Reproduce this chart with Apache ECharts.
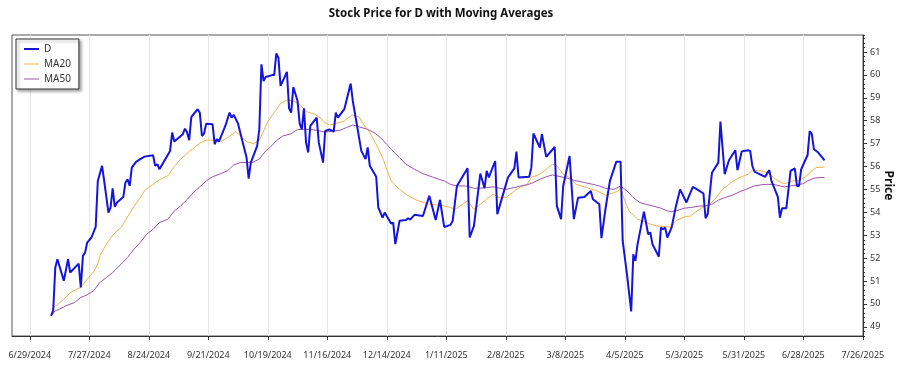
<!DOCTYPE html>
<html>
<head>
<meta charset="utf-8">
<title>Stock Price for D with Moving Averages</title>
<script src="https://cdn.jsdelivr.net/npm/echarts@6/dist/echarts.min.js"></script>
<style>
  html, body { margin: 0; padding: 0; background: #fff; }
  #chart { width: 900px; height: 375px; }
</style>
</head>
<body>
<div id="chart"></div>
<script>
// daily close of D
var dates = ['2024-07-09','2024-07-10','2024-07-11','2024-07-12','2024-07-15','2024-07-17','2024-07-18','2024-07-22','2024-07-23','2024-07-24',
  '2024-07-25','2024-07-26','2024-07-28','2024-07-30','2024-07-31','2024-08-02','2024-08-03','2024-08-05','2024-08-06','2024-08-07',
  '2024-08-08','2024-08-09','2024-08-12','2024-08-13','2024-08-14','2024-08-15','2024-08-16','2024-08-18','2024-08-20','2024-08-22',
  '2024-08-26','2024-08-27','2024-08-28','2024-08-29','2024-09-03','2024-09-04','2024-09-05','2024-09-09','2024-09-10','2024-09-11',
  '2024-09-12','2024-09-13','2024-09-16','2024-09-17','2024-09-18','2024-09-19','2024-09-20','2024-09-23','2024-09-24','2024-09-25',
  '2024-09-26','2024-09-29','2024-10-01','2024-10-02','2024-10-03','2024-10-05','2024-10-07','2024-10-09','2024-10-10','2024-10-11',
  '2024-10-14','2024-10-15','2024-10-16','2024-10-17','2024-10-18','2024-10-21','2024-10-22','2024-10-23','2024-10-24','2024-10-25',
  '2024-10-28','2024-10-29','2024-10-30','2024-10-31','2024-11-02','2024-11-03','2024-11-04','2024-11-05','2024-11-06','2024-11-07',
  '2024-11-08','2024-11-11','2024-11-12','2024-11-14','2024-11-15','2024-11-17','2024-11-19','2024-11-20','2024-11-21','2024-11-24',
  '2024-11-27','2024-11-28','2024-11-30','2024-12-02','2024-12-04','2024-12-05','2024-12-06','2024-12-09','2024-12-10','2024-12-12',
  '2024-12-13','2024-12-16','2024-12-17','2024-12-18','2024-12-20','2024-12-23','2024-12-24','2024-12-25','2024-12-27','2024-12-31',
  '2025-01-03','2025-01-06','2025-01-08','2025-01-10','2025-01-13','2025-01-14','2025-01-16','2025-01-21','2025-01-22','2025-01-24',
  '2025-01-27','2025-01-29','2025-01-30','2025-01-31','2025-02-03','2025-02-04','2025-02-09','2025-02-12','2025-02-13','2025-02-14',
  '2025-02-19','2025-02-20','2025-02-21','2025-02-24','2025-02-25','2025-02-27','2025-03-03','2025-03-04','2025-03-06','2025-03-07',
  '2025-03-10','2025-03-12','2025-03-14','2025-03-17','2025-03-20','2025-03-21','2025-03-24','2025-03-25','2025-03-27','2025-03-29',
  '2025-04-01','2025-04-03','2025-04-04','2025-04-06','2025-04-08','2025-04-09','2025-04-10','2025-04-11','2025-04-14','2025-04-16',
  '2025-04-17','2025-04-18','2025-04-21','2025-04-22','2025-04-23','2025-04-24','2025-04-25','2025-04-27','2025-04-29','2025-05-01',
  '2025-05-04','2025-05-07','2025-05-09','2025-05-12','2025-05-13','2025-05-14','2025-05-16','2025-05-19','2025-05-20','2025-05-22',
  '2025-05-24','2025-05-27','2025-05-28','2025-05-30','2025-05-31','2025-06-02','2025-06-03','2025-06-04','2025-06-05','2025-06-10',
  '2025-06-12','2025-06-13','2025-06-16','2025-06-17','2025-06-18','2025-06-20','2025-06-22','2025-06-24','2025-06-25','2025-06-26',
  '2025-06-27','2025-06-30','2025-07-01','2025-07-02','2025-07-03','2025-07-05','2025-07-08'];
var prices = [49.48,49.70,51.59,51.95,51.01,51.95,51.37,51.76,50.72,52.10,
  52.24,52.68,52.90,53.36,55.37,56.03,55.37,53.99,54.21,55.05,
  54.24,54.43,54.67,55.30,55.44,55.15,55.95,56.20,56.32,56.43,
  56.49,56.03,56.10,55.88,56.68,57.48,57.09,57.41,57.65,57.50,
  57.15,58.16,58.50,58.35,57.33,57.44,57.87,57.84,56.97,57.19,
  57.09,57.77,58.35,58.13,58.25,57.87,57.12,56.39,55.47,56.17,
  56.90,57.62,60.46,59.73,59.91,59.99,59.99,60.93,60.75,59.52,
  60.13,58.54,58.35,59.47,58.86,57.87,57.62,58.54,57.04,56.61,
  57.77,58.13,57.04,56.17,57.55,57.62,57.52,58.35,58.13,58.50,
  59.62,58.86,57.77,56.68,56.32,56.83,56.03,55.55,54.21,53.77,
  53.99,53.51,53.55,52.61,53.63,53.66,53.74,53.68,53.89,53.84,
  54.72,53.66,54.54,53.36,53.45,53.63,55.15,55.92,52.90,53.41,
  55.69,55.05,55.81,55.52,56.24,53.92,55.52,55.92,56.65,55.52,
  55.55,55.95,57.44,56.83,57.41,56.42,56.85,54.28,53.70,55.15,
  56.46,53.70,54.64,54.67,54.93,54.57,54.35,52.87,54.21,55.37,
  56.21,56.21,52.75,51.30,49.67,52.17,51.88,52.61,54.03,53.04,
  53.12,52.61,52.06,53.33,53.26,53.33,52.90,53.33,54.24,55.00,
  54.43,55.11,55.00,54.82,53.74,53.92,55.73,56.17,57.96,55.66,
  56.27,56.71,55.84,56.65,56.68,56.71,56.68,56.03,55.78,55.55,
  55.84,55.37,54.67,53.77,54.18,54.18,55.81,55.92,55.15,55.15,
  55.88,56.50,57.55,57.41,56.75,56.61,56.27];

// moving averages, read at a coarser step
var ma20Dates = ['2024-07-09','2024-07-10','2024-07-12','2024-07-15','2024-07-18','2024-07-21','2024-07-23','2024-07-26','2024-07-29','2024-07-31',
  '2024-08-01','2024-08-04','2024-08-07','2024-08-11','2024-08-14','2024-08-17','2024-08-20','2024-08-22','2024-08-26','2024-08-29',
  '2024-09-02','2024-09-05','2024-09-08','2024-09-12','2024-09-17','2024-09-20','2024-09-23','2024-09-27','2024-09-30','2024-10-04',
  '2024-10-07','2024-10-09','2024-10-12','2024-10-15','2024-10-17','2024-10-19','2024-10-22','2024-10-25','2024-10-28','2024-10-31',
  '2024-11-03','2024-11-06','2024-11-10','2024-11-13','2024-11-15','2024-11-17','2024-11-20','2024-11-24','2024-11-27','2024-11-28',
  '2024-12-01','2024-12-03','2024-12-06','2024-12-09','2024-12-12','2024-12-14','2024-12-16','2024-12-20','2024-12-23','2024-12-27',
  '2024-12-31','2025-01-03','2025-01-07','2025-01-10','2025-01-13','2025-01-15','2025-01-18','2025-01-21','2025-01-24','2025-01-27',
  '2025-01-30','2025-02-02','2025-02-05','2025-02-08','2025-02-12','2025-02-15','2025-02-18','2025-02-20','2025-02-24','2025-02-27',
  '2025-03-02','2025-03-04','2025-03-07','2025-03-10','2025-03-13','2025-03-18','2025-03-23','2025-03-27','2025-03-29','2025-04-02',
  '2025-04-03','2025-04-05','2025-04-07','2025-04-11','2025-04-14','2025-04-17','2025-04-20','2025-04-25','2025-04-27','2025-04-29',
  '2025-05-03','2025-05-06','2025-05-09','2025-05-12','2025-05-15','2025-05-18','2025-05-21','2025-05-26','2025-05-29','2025-06-02',
  '2025-06-04','2025-06-08','2025-06-11','2025-06-14','2025-06-16','2025-06-19','2025-06-21','2025-06-23','2025-06-26','2025-06-29',
  '2025-07-02','2025-07-04','2025-07-08'];
var ma20 = [49.48,49.85,49.96,50.21,50.48,50.64,50.72,51.08,51.40,51.74,
  52.10,52.60,53.00,53.35,53.80,54.25,54.64,54.95,55.22,55.42,
  55.60,56.00,56.32,56.65,57.02,57.15,57.15,57.09,57.26,57.52,
  57.26,57.09,57.00,57.15,57.55,57.95,58.35,58.75,58.90,58.86,
  58.72,58.40,58.28,58.10,57.90,57.81,57.87,57.99,58.20,58.25,
  58.16,57.84,57.48,56.97,56.39,55.88,55.37,55.00,54.79,54.57,
  54.43,54.35,54.32,54.28,54.21,54.13,54.30,54.50,54.13,54.35,
  54.57,54.79,54.64,54.64,54.93,55.11,55.22,55.52,55.66,55.88,
  56.10,56.03,55.66,55.52,55.22,55.08,54.93,54.75,54.80,54.93,
  55.08,54.50,54.06,53.70,53.60,53.48,53.41,53.36,53.36,53.63,
  53.80,53.84,54.06,54.24,54.35,54.64,55.00,55.37,55.52,55.66,
  55.84,55.81,55.73,55.52,55.37,55.25,55.30,55.37,55.40,55.55,
  55.81,55.95,55.98];

var ma50Dates = ['2024-07-09','2024-07-11','2024-07-13','2024-07-16','2024-07-20','2024-07-23','2024-07-26','2024-07-29','2024-08-01','2024-08-04',
  '2024-08-07','2024-08-11','2024-08-14','2024-08-17','2024-08-20','2024-08-23','2024-08-26','2024-08-29','2024-09-02','2024-09-05',
  '2024-09-08','2024-09-11','2024-09-14','2024-09-17','2024-09-20','2024-09-23','2024-09-27','2024-09-30','2024-10-03','2024-10-06',
  '2024-10-09','2024-10-12','2024-10-15','2024-10-18','2024-10-20','2024-10-23','2024-10-26','2024-10-30','2024-11-02','2024-11-05',
  '2024-11-08','2024-11-11','2024-11-15','2024-11-19','2024-11-22','2024-11-25','2024-11-28','2024-12-01','2024-12-05','2024-12-08',
  '2024-12-11','2024-12-14','2024-12-16','2024-12-20','2024-12-23','2024-12-27','2024-12-31','2025-01-05','2025-01-10','2025-01-13',
  '2025-01-16','2025-01-20','2025-01-24','2025-01-27','2025-01-30','2025-02-02','2025-02-05','2025-02-08','2025-02-12','2025-02-15',
  '2025-02-18','2025-02-21','2025-02-24','2025-02-27','2025-03-02','2025-03-06','2025-03-09','2025-03-12','2025-03-17','2025-03-21',
  '2025-03-24','2025-03-27','2025-03-31','2025-04-03','2025-04-06','2025-04-09','2025-04-12','2025-04-15','2025-04-18','2025-04-22',
  '2025-04-25','2025-04-27','2025-04-30','2025-05-03','2025-05-06','2025-05-10','2025-05-13','2025-05-16','2025-05-19','2025-05-22',
  '2025-05-26','2025-05-29','2025-06-01','2025-06-05','2025-06-08','2025-06-11','2025-06-14','2025-06-17','2025-06-19','2025-06-22',
  '2025-06-25','2025-06-28','2025-06-30','2025-07-03','2025-07-06','2025-07-08'];
var ma50 = [49.48,49.70,49.77,49.92,50.06,50.28,50.40,50.57,50.94,51.15,
  51.37,51.74,52.03,52.39,52.68,53.04,53.26,53.55,53.70,54.06,
  54.28,54.55,54.86,55.11,55.37,55.55,55.69,55.81,56.07,56.17,
  56.17,56.19,56.32,56.68,56.83,57.12,57.33,57.43,57.62,57.62,
  57.62,57.58,57.50,57.55,57.58,57.70,57.81,57.73,57.62,57.48,
  57.26,56.97,56.75,56.39,56.10,55.88,55.69,55.52,55.37,55.22,
  55.15,55.15,55.05,55.05,55.08,55.11,55.05,55.00,55.08,55.15,
  55.20,55.30,55.44,55.55,55.63,55.55,55.49,55.40,55.30,55.22,
  55.15,55.05,55.00,55.15,54.93,54.64,54.43,54.35,54.28,54.18,
  54.06,54.03,54.09,54.18,54.21,54.27,54.28,54.35,54.53,54.64,
  54.76,54.90,55.00,55.15,55.20,55.22,55.22,55.15,55.11,55.15,
  55.20,55.25,55.37,55.49,55.52,55.52];

var tickDates = ['2024-06-29','2024-07-27','2024-08-24','2024-09-21','2024-10-19','2024-11-16','2024-12-14','2025-01-11',
  '2025-02-08','2025-03-08','2025-04-05','2025-05-03','2025-05-31','2025-06-28','2025-07-26'];
var tickLabels = ['6/29/2024','7/27/2024','8/24/2024','9/21/2024','10/19/2024','11/16/2024','12/14/2024','1/11/2025',
  '2/8/2025','3/8/2025','4/5/2025','5/3/2025','5/31/2025','6/28/2025','7/26/2025'];
var priceTicks = [49,50,51,52,53,54,55,56,57,58,59,60,61];

function toTime(s) {
  var p = s.split('-');
  return new Date(+p[0], +p[1] - 1, +p[2]).getTime();
}
function pairs(ds, vs) {
  return ds.map(function (d, i) { return [toTime(d), vs[i]]; });
}

var tickTimes = tickDates.map(toTime);
var font = 'Noto Sans';
var blue = '#1414dc', orange = '#f3b24a', purple = '#9c54a8';

var chart = echarts.init(document.getElementById('chart'));
chart.setOption({
  backgroundColor: '#fff',
  animation: false,
  title: {
    text: 'Stock Price for D with Moving Averages',
    left: 441,
    top: 8,
    padding: 0,
    textAlign: 'center',
    textStyle: { fontSize: 11.5, fontWeight: 'bold', color: '#111', fontFamily: font }
  },
  legend: {
    // plain line swatches, no point markers
    data: [
      { name: 'D', icon: 'path://M0,0H15V2H0Z', itemStyle: { color: blue } },
      { name: 'MA20', icon: 'path://M0,0H15V1H0Z', itemStyle: { color: orange } },
      { name: 'MA50', icon: 'path://M0,0H15V1H0Z', itemStyle: { color: purple } }
    ],
    orient: 'vertical',
    left: 16,
    top: 39,
    padding: [5, 8, 5, 8],
    itemGap: 5,
    itemWidth: 15,
    itemHeight: 12,
    itemTextGap: 4,
    backgroundColor: '#fff',
    borderColor: '#333',
    borderWidth: 1,
    borderRadius: 0,
    shadowColor: 'rgba(0,0,0,0.35)',
    shadowBlur: 3,
    shadowOffsetX: 2,
    shadowOffsetY: 2,
    textStyle: { fontSize: 10, color: '#333', fontFamily: font }
  },
  grid: {
    left: 12, right: 37, top: 35, bottom: 39,
    show: true,
    borderColor: '#555',
    borderWidth: 1,
    containLabel: false,
    outerBoundsMode: 'none'
  },
  xAxis: {
    // dates as timestamps on a value axis so the 28-day ticks can be placed exactly
    type: 'value',
    min: new Date(2024, 5, 20, 15).getTime(),
    max: new Date(2025, 6, 26, 2).getTime(),
    axisLine: { show: true, lineStyle: { color: '#333' } },
    axisTick: { show: true, length: 4, customValues: tickTimes, lineStyle: { color: '#333' } },
    axisLabel: {
      customValues: tickTimes,
      margin: 15,
      fontSize: 9,
      color: '#333',
      fontFamily: font,
      formatter: function (v) {
        var i = tickTimes.indexOf(v);
        return i >= 0 ? tickLabels[i] : '';
      }
    },
    splitLine: { show: true, lineStyle: { color: '#e6e6e6', width: 1 } }
  },
  yAxis: [{
    // minor ticks every 0.2
    type: 'value',
    position: 'right',
    min: 48.6,
    max: 61.74,
    interval: 0.2,
    axisLine: { show: true, lineStyle: { color: '#333' } },
    axisTick: { show: true, length: 2, lineStyle: { color: '#333' } },
    axisLabel: { show: false },
    splitLine: { show: false }
  }, {
    type: 'value',
    position: 'right',
    min: 48.6,
    max: 61.74,
    name: 'Price',
    nameLocation: 'middle',
    nameRotate: -90,
    nameGap: 19,
    nameMoveOverlap: false,
    nameTextStyle: { fontSize: 12, fontWeight: 'bold', color: '#111', fontFamily: font },
    axisLine: { show: false },
    axisTick: { show: true, length: 4, customValues: priceTicks, lineStyle: { color: '#333' } },
    axisLabel: { customValues: priceTicks, margin: 7, fontSize: 9, color: '#333', fontFamily: font },
    splitLine: { show: false }
  }],
  series: [{
    name: 'D',
    type: 'line',
    yAxisIndex: 0,
    data: pairs(dates, prices),
    showSymbol: false,
    symbol: 'none',
    lineStyle: { color: blue, width: 2 },
    itemStyle: { color: blue },
    z: 5
  }, {
    name: 'MA20',
    type: 'line',
    yAxisIndex: 0,
    data: pairs(ma20Dates, ma20),
    showSymbol: false,
    symbol: 'none',
    lineStyle: { color: orange, width: 1 },
    itemStyle: { color: orange },
    z: 3
  }, {
    name: 'MA50',
    type: 'line',
    yAxisIndex: 0,
    data: pairs(ma50Dates, ma50),
    showSymbol: false,
    symbol: 'none',
    lineStyle: { color: purple, width: 1 },
    itemStyle: { color: purple },
    z: 4
  }]
});
</script>
</body>
</html>
